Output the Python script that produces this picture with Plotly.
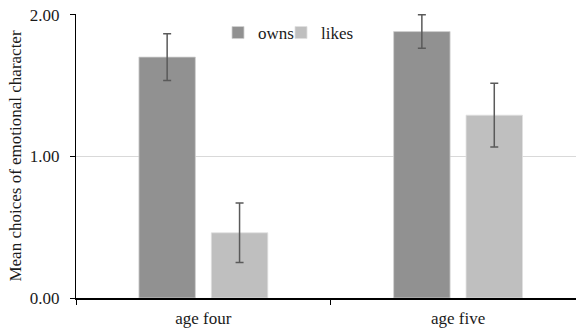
import plotly.graph_objects as go

categories = ["age four", "age five"]
owns = [1.70, 1.88]
owns_err = [0.165, 0.118]
likes = [0.46, 1.29]
likes_err = [0.21, 0.225]

font = "Liberation Serif, Times New Roman, serif"
fsize = 17

fig = go.Figure()
fig.add_trace(go.Bar(
    x=categories, y=owns, name="owns", legend="legend",
    marker=dict(color="#919191", line=dict(color="#d0d0d0", width=0.8)),
    error_y=dict(type="data", array=owns_err, color="#5a5a5a", thickness=1.5, width=4),
))
fig.add_trace(go.Bar(
    x=categories, y=likes, name="likes", legend="legend2",
    marker=dict(color="#bfbfbf", line=dict(color="#e0e0e0", width=0.8)),
    error_y=dict(type="data", array=likes_err, color="#5a5a5a", thickness=1.5, width=4),
))

leg_common = dict(orientation="h", y=0.9965, xanchor="left", yanchor="top",
                  font=dict(family=font, size=fsize, color="#1a1a1a"),
                  bgcolor="rgba(0,0,0,0)", itemwidth=30)

fig.update_layout(
    width=576, height=332,
    margin=dict(l=76, r=0, t=14, b=34),
    paper_bgcolor="white", plot_bgcolor="white",
    barmode="group", bargap=0.4314, bargroupgap=0.2207,
    font=dict(family=font, size=fsize, color="#1a1a1a"),
    showlegend=True,
    legend=dict(x=0.284, **leg_common),
    legend2=dict(x=0.41, **leg_common),
    xaxis=dict(type="category", range=[-0.5, 1.463], showline=True, linecolor="black",
               linewidth=2, ticks="outside", tickson="boundaries", ticklen=5,
               tickcolor="black", showgrid=False, zeroline=False, automargin=False,
               ticklabelstandoff=4,
               tickfont=dict(family=font, size=fsize, color="#1a1a1a")),
    yaxis=dict(range=[0, 2.004], tickvals=[0, 1, 2], ticktext=["0.00", "1.00", "2.00"],
               showline=True, linecolor="black", linewidth=1, ticks="outside",
               ticklen=5, tickcolor="black", showgrid=True, gridcolor="#d9d9d9",
               gridwidth=1, zeroline=False, automargin=False, ticklabelstandoff=7,
               ticklabeloverflow="allow",
               tickfont=dict(family=font, size=fsize, color="#1a1a1a"),
               title=dict(text="Mean choices of emotional character", standoff=3,
                          font=dict(family=font, size=fsize, color="#1a1a1a"))),
)

fig.write_html("out.html", post_script="document.body.style.margin='0';",
               config={"displayModeBar": False})
